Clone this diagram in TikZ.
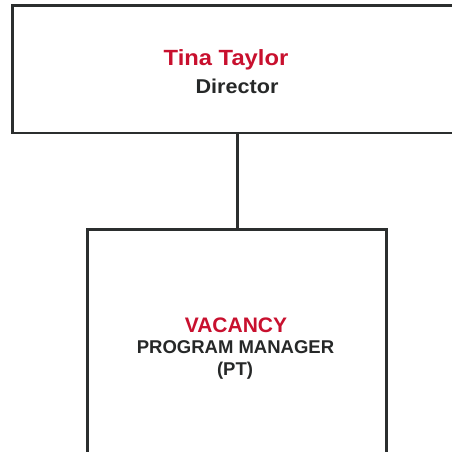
\documentclass[tikz,border=0pt]{standalone}
\usepackage{fontspec}
\setmainfont{Liberation Sans}
\usetikzlibrary{positioning}
\definecolor{namered}{HTML}{C8102E}
\definecolor{linegray}{HTML}{2B2E2E}
\definecolor{textgray}{HTML}{262828}

\begin{document}
\begin{tikzpicture}[x=1pt,y=1pt,font=\bfseries,line width=2.9pt,
  box/.style={draw=linegray, rectangle, inner sep=0pt},
  person/.style={text=namered, anchor=base, inner sep=0pt, font=\bfseries\fontsize{22}{26}\selectfont},
  role/.style={text=textgray, anchor=base, inner sep=0pt, font=\bfseries\fontsize{20}{24}\selectfont},
  post/.style={text=textgray, anchor=base, inner sep=0pt, font=\bfseries\fontsize{18.5}{22}\selectfont}];

\useasboundingbox (0,0) rectangle (452,451);
\clip (0,0) rectangle (452,451);

\node[box, minimum width=467.5pt, minimum height=127.7pt] (topbox) at (246.25,381.85) {};
\node[box, minimum width=299.2pt, minimum height=251.3pt] (pmbox) at (237.1,95.65) {};
\draw[linegray] (pmbox.north) -- (pmbox.north |- topbox.south);

\node[person, xscale=1.08, transform shape] (tina) at (226,385) {Tina Taylor};
\node[role, xscale=1.08, transform shape] (director) at (237,358) {Director};

\node[person, font=\bfseries\fontsize{21}{25}\selectfont] (vacancy) at (236,119) {VACANCY};
\node[post] (manager) at (235.5,98) {PROGRAM MANAGER};
\node[post] (pt) at (235,76) {(PT)};
\end{tikzpicture}
\end{document}
